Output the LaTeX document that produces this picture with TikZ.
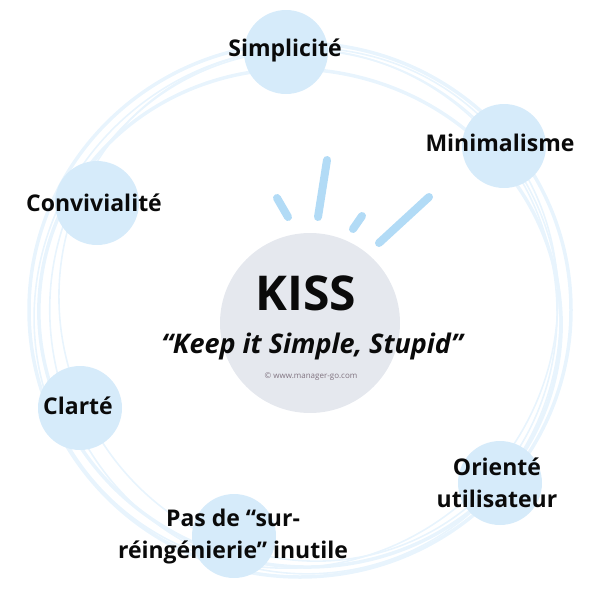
\documentclass[tikz,border=0pt]{standalone}
\usepackage{fontspec}
\setmainfont{Open Sans}
\usepackage{tikz}
\usetikzlibrary{positioning, calc}
\definecolor{ringblue}{RGB}{232, 244, 253}
\definecolor{bubbleblue}{RGB}{214, 235, 250}
\definecolor{rayblue}{RGB}{178, 219, 246}
\definecolor{coregray}{RGB}{229, 232, 238}
\definecolor{inkblack}{RGB}{10, 10, 10}
\tikzset{
  ring/.style={draw=ringblue, line width=3.5pt},
  thinring/.style={draw=ringblue, line width=1.6pt},
  bubble/.style={circle, fill=bubbleblue, minimum size=84pt, inner sep=0pt},
  core/.style={circle, fill=coregray, minimum size=180pt, inner sep=0pt},
  ray/.style={rayblue, line width=8pt, line cap=round},
  label/.style={font=\fontsize{23}{32}\selectfont\bfseries, text=inkblack, align=center, inner sep=0pt}
}

\begin{document}
\begin{tikzpicture}[x=1pt, y=-1pt]
    \useasboundingbox (0, 0) rectangle (600, 600);

    % loose rings round the middle
    \draw[ring] (300, 310) ellipse [x radius=271, y radius=267];
    \draw[thinring] (305, 312) ellipse [x radius=255, y radius=262, rotate=10];
    \draw[ring] (300, 318) ellipse [x radius=262, y radius=248, rotate=-15];
    \draw[thinring] (308, 305) ellipse [x radius=247, y radius=258, rotate=25];
    \draw[thinring] (296, 308) ellipse [x radius=266, y radius=256, rotate=40];

    % bubbles on the ring
    \node[bubble] (simp) at (286, 52) {};
    \node[bubble] (mini) at (504, 146) {};
    \node[bubble] (conv) at (97, 203) {};
    \node[bubble] (clar) at (80, 408) {};
    \node[bubble] (pasde) at (234, 536) {};
    \node[bubble] (orie) at (500, 483) {};

    % centre
    \node[core] (kiss) at (310, 323) {};
    \node[font=\fontsize{48}{48}\selectfont\bfseries, text=inkblack, inner sep=0pt] (kisstitle) at (306, 293) {KISS};
    \node[font=\fontsize{27}{27}\selectfont\bfseries\itshape, text=inkblack, inner sep=0pt] (motto) at (312, 346) {“Keep it Simple, Stupid”};
    \node[font=\fontsize{8}{8}\selectfont, text=gray!90!violet, inner sep=0pt] (site) at (311, 377) {© www.manager-go.com};

    % rays above the centre
    \draw[ray] (277, 198) -- (288, 217);
    \draw[ray] (327, 160) -- (318, 217);
    \draw[ray] (362, 216) -- (353, 229);
    \draw[ray] (429, 197) -- (379, 243);

    % labels
    \node[label] (simptext) at (285, 50) {Simplicité};
    \node[label] (minitext) at (500, 143) {Minimalisme};
    \node[label] (convtext) at (94, 203) {Convivialité};
    \node[label] (clartext) at (78, 406) {Clarté};
    \node[label] (orietext) at (497, 483) {Orienté\\utilisateur};
    \node[label] (pasdetext) at (233, 537) {Pas de “sur-\\réingénierie” inutile};
\end{tikzpicture}
\end{document}
